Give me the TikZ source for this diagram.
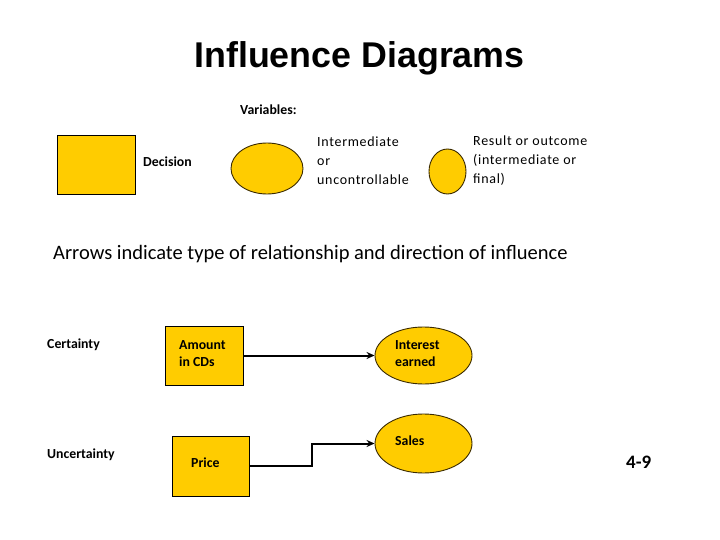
\documentclass[tikz,border=0pt]{standalone}
\usepackage{fontspec}
\setmainfont{Carlito}
\newfontfamily\titlefont{Liberation Sans}
\newfontfamily\spacedfont[LetterSpace=5]{Carlito}
\usetikzlibrary{arrows.meta,calc,shapes.geometric}
\definecolor{boxyellow}{HTML}{FFCC00}
\definecolor{edgebrown}{HTML}{3A2A00}
\tikzset{
  decbox/.style={draw=black, line width=0.9pt, fill=boxyellow, rectangle, inner sep=0pt},
  varell/.style={draw=edgebrown, line width=0.9pt, fill=boxyellow, ellipse, inner sep=0pt},
  lbl/.style={anchor=west, inner sep=0pt, align=left, font=\fontsize{13.8}{17}\selectfont\bfseries},
  txt/.style={anchor=west, inner sep=0pt, align=left, font=\spacedfont\fontsize{14}{19}\selectfont},
  conn/.style={line width=2pt, -{Stealth[length=8pt,width=7pt]}}
}
\begin{document}
\begin{tikzpicture}[x=1pt,y=-1pt]
\useasboundingbox (0,0) rectangle (720,540);
\node[inner sep=0pt, font=\titlefont\fontsize{35.8}{40}\selectfont\bfseries] (title) at (359.5,58) {Influence Diagrams};
\node[lbl] (vars) at (240,110) {Variables:};
% legend
\node[decbox, minimum width=78pt, minimum height=59pt] (decshape) at (96,164.5) {};
\node[lbl] (declbl) at (143,162) {Decision};
\node[varell, minimum width=72pt, minimum height=51pt] (intshape) at (267,168.5) {};
\node[txt] (intlbl) at (317,161) {Intermediate\\or\\uncontrollable};
\node[varell, minimum width=37pt, minimum height=45pt] (resshape) at (447.5,171.5) {};
\node[txt] (reslbl) at (473,161) {Result or outcome\\(intermediate or\\final)};
\node[anchor=west, inner sep=0pt, font=\fontsize{20.5}{22}\selectfont] (arrows) at (53,254) {Arrows indicate type of relationship and direction of influence};
% certainty row
\node[lbl] (cert) at (47,345) {Certainty};
\node[decbox, minimum width=78pt, minimum height=59pt] (amount) at (204,355.5) {};
\node[lbl] (amountlbl) at (179,353.5) {Amount\\in CDs};
\node[varell, minimum width=97pt, minimum height=57pt] (interest) at (423.5,355.5) {};
\node[lbl] (interestlbl) at (395,353.5) {Interest\\earned};
\draw[conn] (amount.east) -- (interest.west);
% uncertainty row
\node[lbl] (uncert) at (47,455) {Uncertainty};
\node[decbox, minimum width=77pt, minimum height=60pt] (price) at (210.5,466) {};
\node[lbl] (pricelbl) at (191,463) {Price};
\node[varell, minimum width=97pt, minimum height=59pt] (sales) at (423.5,443.5) {};
\node[lbl] (saleslbl) at (395,441) {Sales};
\coordinate (mid) at ($(price.east)!0.5!(sales.west)$);
\draw[conn] (price.east) -- (mid |- price.east) -- (mid |- sales.west) -- (sales.west);
\node[anchor=west, inner sep=0pt, font=\fontsize{19}{20}\selectfont\bfseries] (pagenum) at (626,462) {4-9};
\end{tikzpicture}
\end{document}
